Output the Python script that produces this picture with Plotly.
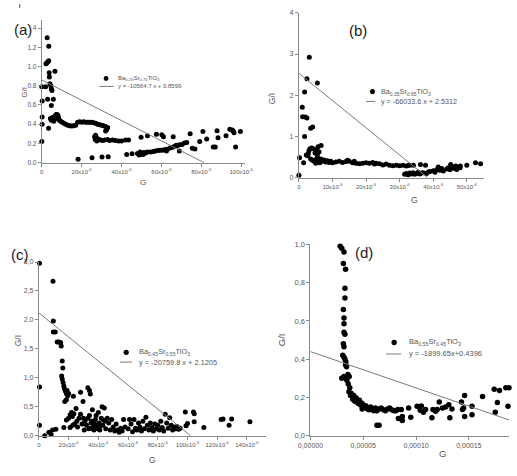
import plotly.graph_objects as go

W, H = 517, 476
FONT = "Liberation Sans, Arial, sans-serif"

# ---------------- Panel (a): Ba0.25Sr0.75TiO3  (G in units of 1e-6) ----------------
a_G = [0.8, 2.7, 3.5, 2.1, 2.6, 3.1, 3.5, 3.7, 3.8, 6.6,
       0.0, 1.9, 4.1, 4.5, 4.8, 5.1, 0.2, 2.9, 5.8, 4.8,
       0.2, 0.2, 0.0, 3.4,
       4.3, 4.8, 5.3, 5.8, 6.3, 6.8, 7.2, 7.7, 8.1, 8.4, 7.0, 6.0,
       8.8, 9.5, 10.3, 11.1, 12.0, 13.0, 14.0, 15.0, 16.0, 17.0,
       18.0, 19.0, 20.0, 21.0, 22.0, 23.0, 24.0, 25.0, 26.0, 27.0,
       28.0, 29.0, 30.0, 31.0, 32.0, 33.0, 32.6, 32.0,
       26.5, 27.0, 27.3, 27.8, 26.8, 27.6, 28.5, 29.5, 30.5,
       31.5, 33.0, 34.0, 35.5, 37.0, 38.5, 40.0, 42.0, 43.5,
       18.2, 25.2, 30.2, 33.3,
       42.6, 45.3, 48.0, 48.8, 49.3, 49.8, 50.3, 50.8, 51.3, 52.0, 53.0, 54.6, 56.0, 57.0,
       58.2, 59.4, 60.6, 61.8, 62.5, 63.0, 64.3, 65.5, 66.7, 67.9, 69.1, 70.3, 71.5, 72.7,
       49.8, 53.0, 57.5, 60.2, 61.0, 65.9, 69.0, 67.5, 74.4, 76.8, 79.2, 80.8, 82.7, 86.0,
       87.0, 87.9, 88.4, 92.4, 94.3, 96.0, 97.2, 96.4, 99.6, 95.5, 75.5]
a_GI = [1.50, 1.30, 1.21, 1.03, 1.04, 1.05, 1.06, 0.935, 0.89, 0.95,
        0.79, 0.79, 0.82, 0.80, 0.77, 0.75, 0.64, 0.66, 0.66, 0.595,
        0.475, 0.40, 0.22, 0.357,
        0.46, 0.44, 0.47, 0.45, 0.47, 0.49, 0.50, 0.50, 0.49, 0.47, 0.46, 0.43,
        0.44, 0.43, 0.42, 0.41, 0.40, 0.39, 0.385, 0.38, 0.385, 0.39,
        0.42, 0.425, 0.42, 0.425, 0.42, 0.42, 0.42, 0.42, 0.415, 0.41,
        0.40, 0.395, 0.39, 0.385, 0.375, 0.365, 0.345, 0.33,
        0.27, 0.285, 0.26, 0.25, 0.24, 0.225, 0.24, 0.235, 0.23,
        0.235, 0.24, 0.23, 0.235, 0.23, 0.225, 0.225, 0.235, 0.235,
        0.034, 0.05, 0.058, 0.061,
        0.085, 0.092, 0.095, 0.08, 0.11, 0.09, 0.10, 0.085, 0.105, 0.10, 0.11, 0.11, 0.115, 0.12,
        0.125, 0.13, 0.13, 0.136, 0.12, 0.14, 0.153, 0.16, 0.17, 0.175, 0.187, 0.19, 0.204, 0.21,
        0.265, 0.28, 0.296, 0.29, 0.27, 0.27, 0.12, 0.18, 0.30, 0.143, 0.22, 0.323, 0.245, 0.163,
        0.163, 0.333, 0.26, 0.28, 0.347, 0.33, 0.163, 0.31, 0.323, 0.34, 0.15]
a_fit_G = [0.0, 81.4]
a_fit_GI = [0.8599, 0.0]
a_xticks = [0, 20, 40, 60, 80, 100]
a_xlabels = ["0", "20x10<sup>-6</sup>", "40x10<sup>-6</sup>", "60x10<sup>-6</sup>",
             "80x10<sup>-6</sup>", "100x10<sup>-6</sup>"]
a_yticks = [0.0, 0.2, 0.4, 0.6, 0.8, 1.0, 1.2, 1.4]
a_ylabels = ["0.0", "0.2", "0.4", "0.6", "0.8", "1.0", "1.2", "1.4"]

# ---------------- Panel (b): Ba0.35Sr0.65TiO3  (G in units of 1e-6) ----------------
b_G = [0.0, 0.2, 1.0, 1.1, 1.9, 2.4, 1.7, 2.4, 3.1, 5.5, 1.7, 3.5, 4.1, 1.4,
       2.2, 2.8, 3.3, 3.8, 4.3, 2.6, 5.2, 5.7, 6.6, 6.0, 4.8, 5.5, 3.0,
       3.5, 4.0, 4.5, 5.0, 5.5, 6.0, 6.5, 7.0, 7.5, 8.0, 8.5, 9.0, 9.5, 10.0, 6.2, 5.0,
       11, 12, 13, 14, 15, 16, 17, 18, 19, 20, 21, 22, 23, 24, 25, 26, 27, 28, 29, 30,
       31, 32, 33, 14.5, 16.5, 22.5,
       31.5, 32.0, 32.5, 33.0, 33.5, 34.0, 34.5, 35.0, 35.5, 36.0, 36.5, 37.0, 38.0, 38.5,
       39.0, 40.0, 40.5, 41.0, 42.0, 42.5, 43.0, 44.0, 44.5, 45.0, 46.0, 46.5, 47.0, 47.5, 48.0,
       32.7, 34.1, 36.2, 37.7, 41.5, 45.2, 46.7, 48.1, 50.0, 52.6, 54.1]
b_GI = [0.06, 0.48, 1.71, 1.48, 1.47, 1.45, 2.08, 2.40, 2.92, 2.30, 1.00, 1.20, 1.23, 0.36,
        0.55, 0.58, 0.70, 0.72, 0.70, 0.53, 0.67, 0.75, 0.78, 0.63, 0.60, 0.55, 0.65,
        0.45, 0.42, 0.40, 0.44, 0.48, 0.42, 0.45, 0.40, 0.43, 0.38, 0.41, 0.37, 0.40, 0.36, 0.36, 0.35,
        0.38, 0.40, 0.37, 0.39, 0.40, 0.36, 0.35, 0.34, 0.35, 0.36, 0.35, 0.37, 0.35, 0.34, 0.31, 0.33,
        0.30, 0.29, 0.30, 0.29, 0.30, 0.28, 0.30, 0.42, 0.40, 0.33,
        0.08, 0.10, 0.07, 0.11, 0.09, 0.12, 0.08, 0.10, 0.13, 0.09, 0.11, 0.12, 0.10, 0.14,
        0.15, 0.17, 0.13, 0.19, 0.18, 0.22, 0.16, 0.21, 0.24, 0.19, 0.23, 0.27, 0.20, 0.26, 0.24,
        0.30, 0.30, 0.32, 0.30, 0.26, 0.32, 0.28, 0.28, 0.30, 0.36, 0.34]
b_fit_G = [0.0, 38.33]
b_fit_GI = [2.5312, 0.0]
b_xticks = [0, 10, 20, 30, 40, 50]
b_xlabels = ["0", "10x10<sup>-6</sup>", "20x10<sup>-6</sup>", "30x10<sup>-6</sup>",
             "40x10<sup>-6</sup>", "50x10<sup>-6</sup>"]
b_yticks = [0, 1, 2, 3, 4]
b_ylabels = ["0", "1", "2", "3", "4"]

# ---------------- Panel (c): Ba0.45Sr0.55TiO3  (G in units of 1e-6) ----------------
c_G = [0.4, 0.4, 0.4, 9.5, 9.7, 9.7, 11.0, 12.3, 13.5, 14.6, 15.0, 15.7, 16.1, 15.3, 15.7,
       16.3, 16.8, 17.2, 17.8, 18.5, 18.9, 19.4, 17.4, 18.5, 20.0,
       23.2, 28.0, 29.7, 32.9, 34.0, 34.6,
       3.9, 6.7, 8.2, 9.2, 11.4, 16.8,
       18.5, 20.0, 21.0, 22.0, 22.5, 23.5, 24.0, 22.8, 25.0, 25.5, 27.0, 28.0, 29.0, 30.0,
       31.0, 32.0, 33.0, 34.0, 35.0, 35.5, 36.0, 37.0, 37.5, 38.0, 38.5, 39.0, 40.0, 40.5,
       41.0, 42.0, 42.5, 43.0, 44.0, 44.5, 45.0, 46.0, 47.0, 48.0, 49.0, 50.0, 51.0, 52.0,
       53.0, 54.0, 55.0, 56.0, 57.0, 58.0, 60.0, 61.0, 62.0, 63.0, 64.0, 65.0, 66.0, 67.0,
       68.0, 69.0, 70.0, 71.0, 72.0, 73.0, 74.0, 75.0, 76.0, 77.0, 78.0, 79.0, 80.0, 81.0,
       82.0, 83.0, 84.0, 85.0, 86.0, 87.0, 88.0, 89.0, 90.0, 91.0, 92.0, 93.0, 94.0, 95.0,
       35.0, 37.0, 39.5, 41.5, 43.5, 26.0, 21.0, 30.5, 33.5,
       98.5, 104.0, 104.5, 100.0, 99.0, 104.5, 111.0, 122.6, 123.9, 128.0, 129.7, 142.0]
c_GI = [2.98, 0.84, 0.18, 2.67, 1.98, 1.79, 1.79, 1.62, 1.62, 1.61, 1.55, 1.29, 1.17, 1.03, 0.98,
        0.92, 0.86, 0.81, 0.77, 0.73, 0.78, 0.69, 0.59, 0.62, 0.73,
        0.68, 0.75, 0.59, 0.83, 0.78, 0.72,
        0.0, 0.06, 0.02, 0.10, 0.11, 0.14,
        0.27, 0.30, 0.36, 0.40, 0.33, 0.38, 0.20, 0.18, 0.47, 0.25, 0.30, 0.37, 0.20, 0.30,
        0.25, 0.18, 0.30, 0.35, 0.13, 0.25, 0.45, 0.10, 0.20, 0.28, 0.35, 0.15, 0.40, 0.22,
        0.10, 0.30, 0.50, 0.18, 0.48, 0.25, 0.12, 0.30, 0.22, 0.10, 0.28, 0.15, 0.08, 0.20,
        0.10, 0.06, 0.13, 0.08, 0.28, 0.15, 0.12, 0.28, 0.20, 0.07, 0.28, 0.13, 0.10, 0.22,
        0.15, 0.08, 0.25, 0.12, 0.32, 0.18, 0.10, 0.22, 0.14, 0.08, 0.20, 0.12, 0.18, 0.10,
        0.25, 0.14, 0.08, 0.37, 0.22, 0.13, 0.31, 0.18, 0.10, 0.15, 0.12, 0.16, 0.11, 0.13,
        0.22, 0.17, 0.12, 0.17, 0.27, 0.15, 0.14, 0.10, 0.12,
        0.41, 0.41, 0.38, 0.21, 0.17, 0.24, 0.14, 0.28, 0.29, 0.18, 0.29, 0.24]
c_fit_G = [0.0, 102.1]
c_fit_GI = [2.1205, 0.0]
c_xticks = [0, 20, 40, 60, 80, 100, 120, 140]
c_xlabels = ["0", "20x10<sup>-6</sup>", "40x10<sup>-6</sup>", "60x10<sup>-6</sup>",
             "80x10<sup>-6</sup>", "100x10<sup>-6</sup>", "120x10<sup>-6</sup>", "140x10<sup>-6</sup>"]
c_yticks = [0.0, 0.5, 1.0, 1.5, 2.0, 2.5, 3.0]
c_ylabels = ["0,0", "0,5", "1,0", "1,5", "2,0", "2,5", "3,0"]

# ---------------- Panel (d): Ba0.55Sr0.45TiO3  (G in units of 1e-5) ----------------
d_G = [2.82, 2.97, 3.18, 3.12, 3.33, 3.27, 3.27, 3.12, 3.18, 3.18, 3.18, 3.27, 3.12, 3.18,
       3.06, 3.18, 3.27, 3.36, 3.33, 3.42, 2.97, 3.18, 3.36, 3.67, 3.55, 3.45,
       3.58, 3.73, 3.65, 3.88, 3.80, 4.1, 4.0, 4.33, 4.2, 4.64, 4.5, 4.88, 4.75, 5.24, 5.0,
       5.4, 5.7, 5.55, 5.9, 6.15, 6.3, 6.5, 6.7, 6.9, 7.1, 7.3, 7.5, 7.7, 7.9, 8.1, 6.0, 4.9,
       6.3, 6.5,
       8.27, 8.6, 8.33, 8.7, 8.7, 9.3, 9.5, 10.1, 10.4, 10.5, 10.7, 10.9, 11.5, 11.6, 11.85,
       12.2, 12.0, 12.5, 12.8, 13.1, 13.2, 13.4, 14.3, 14.4, 14.6, 14.6, 14.5, 15.3, 15.3,
       16.3, 17.4, 17.9, 18.5, 18.8, 17.5, 17.7, 18.7]
d_GI = [0.99, 0.98, 0.96, 0.90, 0.87, 0.77, 0.72, 0.66, 0.615, 0.585, 0.54, 0.53, 0.48, 0.465,
        0.42, 0.41, 0.40, 0.385, 0.37, 0.36, 0.30, 0.31, 0.30, 0.31, 0.32, 0.29,
        0.27, 0.25, 0.23, 0.22, 0.21, 0.21, 0.19, 0.197, 0.18, 0.185, 0.17, 0.17, 0.16, 0.157, 0.15,
        0.14, 0.15, 0.135, 0.14, 0.145, 0.13, 0.14, 0.145, 0.135, 0.13, 0.14, 0.145, 0.135, 0.13, 0.13, 0.13, 0.14,
        0.055, 0.055,
        0.137, 0.137, 0.09, 0.08, 0.10, 0.145, 0.097, 0.154, 0.133, 0.155, 0.123, 0.137, 0.094, 0.137, 0.128,
        0.176, 0.137, 0.145, 0.15, 0.162, 0.094, 0.14, 0.176, 0.137, 0.10, 0.21, 0.145, 0.154, 0.11,
        0.205, 0.243, 0.236, 0.25, 0.25, 0.123, 0.174, 0.154]
d_fit_G = [0.0, 18.8]
d_fit_GI = [0.4396, 0.0825]
d_xticks = [0, 5, 10, 15]
d_xlabels = ["0,00000", "0,00005", "0,00010", "0,00015"]
d_yticks = [0.0, 0.2, 0.4, 0.6, 0.8, 1.0]
d_ylabels = ["0,0", "0,2", "0,4", "0,6", "0,8", "1,0"]

legend_names = ["Ba<sub>0.25</sub>Sr<sub>0.75</sub>TiO<sub>3</sub>",
                "Ba<sub>0.35</sub>Sr<sub>0.65</sub>TiO<sub>3</sub>",
                "Ba<sub>0.45</sub>Sr<sub>0.55</sub>TiO<sub>3</sub>",
                "Ba<sub>0.55</sub>Sr<sub>0.45</sub>TiO<sub>3</sub>"]
fit_names = ["y = -10564.7 x + 0.8599", "y = -66033.6 x + 2.5312",
             "y = -20759.8 x + 2.1205", "y = -1899.65x+0.4396"]
panel_tags = ["(a)", "(b)", "(c)", "(d)"]


def px(x):
    return x / W


def py(y):
    return 1 - y / H


AX = "#8a8a8a"
TXT = "#555555"

fig = go.Figure()

panels = [
    dict(G=a_G, GI=a_GI, fG=a_fit_G, fGI=a_fit_GI, xs="x", ys="y", ms=5),
    dict(G=b_G, GI=b_GI, fG=b_fit_G, fGI=b_fit_GI, xs="x2", ys="y2", ms=5),
    dict(G=c_G, GI=c_GI, fG=c_fit_G, fGI=c_fit_GI, xs="x3", ys="y3", ms=5),
    dict(G=d_G, GI=d_GI, fG=d_fit_G, fGI=d_fit_GI, xs="x4", ys="y4", ms=5.5),
]
for i, p in enumerate(panels):
    fig.add_trace(go.Scatter(x=p["G"], y=p["GI"], mode="markers", xaxis=p["xs"], yaxis=p["ys"],
                             marker=dict(color="black", size=p["ms"], line=dict(width=0)),
                             name=legend_names[i], showlegend=False, cliponaxis=False))
    fig.add_trace(go.Scatter(x=p["fG"], y=p["fGI"], mode="lines", xaxis=p["xs"], yaxis=p["ys"],
                             line=dict(color="#7a7a7a", width=1),
                             name=fit_names[i], showlegend=False, cliponaxis=True))


def axis(dom, rng, tv, tt, anchor, fs):
    return dict(domain=dom, range=rng, tickvals=tv, ticktext=tt, anchor=anchor,
                showline=True, linecolor=AX, linewidth=1, ticks="outside", ticklen=3,
                tickcolor=AX, tickwidth=1, showgrid=False, zeroline=False,
                tickfont=dict(family=FONT, size=fs, color=TXT), fixedrange=True)


fig.update_layout(
    width=W, height=H, margin=dict(l=0, r=0, t=0, b=0),
    paper_bgcolor="white", plot_bgcolor="white", showlegend=False,
    xaxis=axis([px(30), px(242)], [0, 102], a_xticks, a_xlabels, "y", 6),
    yaxis=axis([py(161.7), py(16.7)], [0, 1.48], a_yticks, a_ylabels, "x", 6.5),
    xaxis2=axis([px(298), px(490.5)], [0, 55], b_xticks, b_xlabels, "y2", 6),
    yaxis2=axis([py(177), py(9)], [0, 4], b_yticks, b_ylabels, "x2", 7),
    xaxis3=axis([px(27), px(264)], [0, 153], c_xticks, c_xlabels, "y3", 6),
    yaxis3=axis([py(440), py(263)], [0, 3.0], c_yticks, c_ylabels, "x3", 7),
    xaxis4=axis([px(310), 1.0], [0, 18.8], d_xticks, d_xlabels, "y4", 7),
    yaxis4=axis([py(440), py(245)], [0, 1.0], d_yticks, d_ylabels, "x4", 7.5),
)

annotations = []
shapes = []

# Axis titles
axis_titles = [
    ("G/I", 12, 90, -90, 8), ("G", 135, 182, 0, 8),
    ("G/I", 270, 97, -90, 8.5), ("G", 418, 200, 0, 8.5),
    ("G/I", 5, 343, -90, 8.5), ("G", 145, 465, 0, 8.5),
    ("G/I", 280, 342, -90, 9.5), ("G", 448, 458, 0, 9.5),
]
for t, x, y, ang, fs in axis_titles:
    annotations.append(dict(text=t, x=px(x), y=py(y), xref="paper", yref="paper",
                            showarrow=False, textangle=ang, xanchor="center", yanchor="middle",
                            font=dict(family=FONT, size=fs, color=TXT)))

# Panel tags: (x px, y px, anchor, background)
tag_pos = [(10, 26, "center", "white"), (360, 27, "center", None),
           (18, 255, "right", None), (366, 253, "center", None)]
for t, (x, y, xa, bg) in zip(panel_tags, tag_pos):
    ann = dict(text=t, x=px(x), y=py(y), xref="paper", yref="paper",
               showarrow=False, xanchor=xa, yanchor="middle", borderpad=0,
               font=dict(family=FONT, size=15, color="#222222"))
    if bg:
        ann["bgcolor"] = bg
    annotations.append(ann)

# Legends (marker + line + texts), positions in pixels
legend_geo = [
    (97, 76, 2.5, 90, 105, 84, 107, 6),
    (374.7, 89.3, 2.6, 368, 377.3, 99.3, 381.3, 7.2),
    (118, 355, 2.7, 111.7, 124, 365, 129.3, 7.4),
    (397.3, 345, 2.8, 389, 404.7, 356.7, 410.7, 7.5),
]
for i, (cx, cy, r, lx0, lx1, ly, tx, fs) in enumerate(legend_geo):
    shapes.append(dict(type="circle", xref="paper", yref="paper",
                       x0=px(cx - r), x1=px(cx + r), y0=py(cy + r), y1=py(cy - r),
                       fillcolor="black", line=dict(width=0)))
    shapes.append(dict(type="line", xref="paper", yref="paper",
                       x0=px(lx0), x1=px(lx1), y0=py(ly), y1=py(ly),
                       line=dict(color="#7a7a7a", width=1)))
    annotations.append(dict(text=legend_names[i], x=px(tx), y=py(cy), xref="paper", yref="paper",
                            showarrow=False, xanchor="left", yanchor="middle",
                            font=dict(family=FONT, size=fs, color=TXT)))
    annotations.append(dict(text=fit_names[i], x=px(tx), y=py(ly), xref="paper", yref="paper",
                            showarrow=False, xanchor="left", yanchor="middle",
                            font=dict(family=FONT, size=fs, color=TXT)))

# small cropped fragment at top-left of source image
shapes.append(dict(type="line", xref="paper", yref="paper", x0=px(7), x1=px(7),
                   y0=py(0), y1=py(4), line=dict(color="#555555", width=1)))

fig.update_layout(annotations=annotations, shapes=shapes)
fig.write_html("out.html")
